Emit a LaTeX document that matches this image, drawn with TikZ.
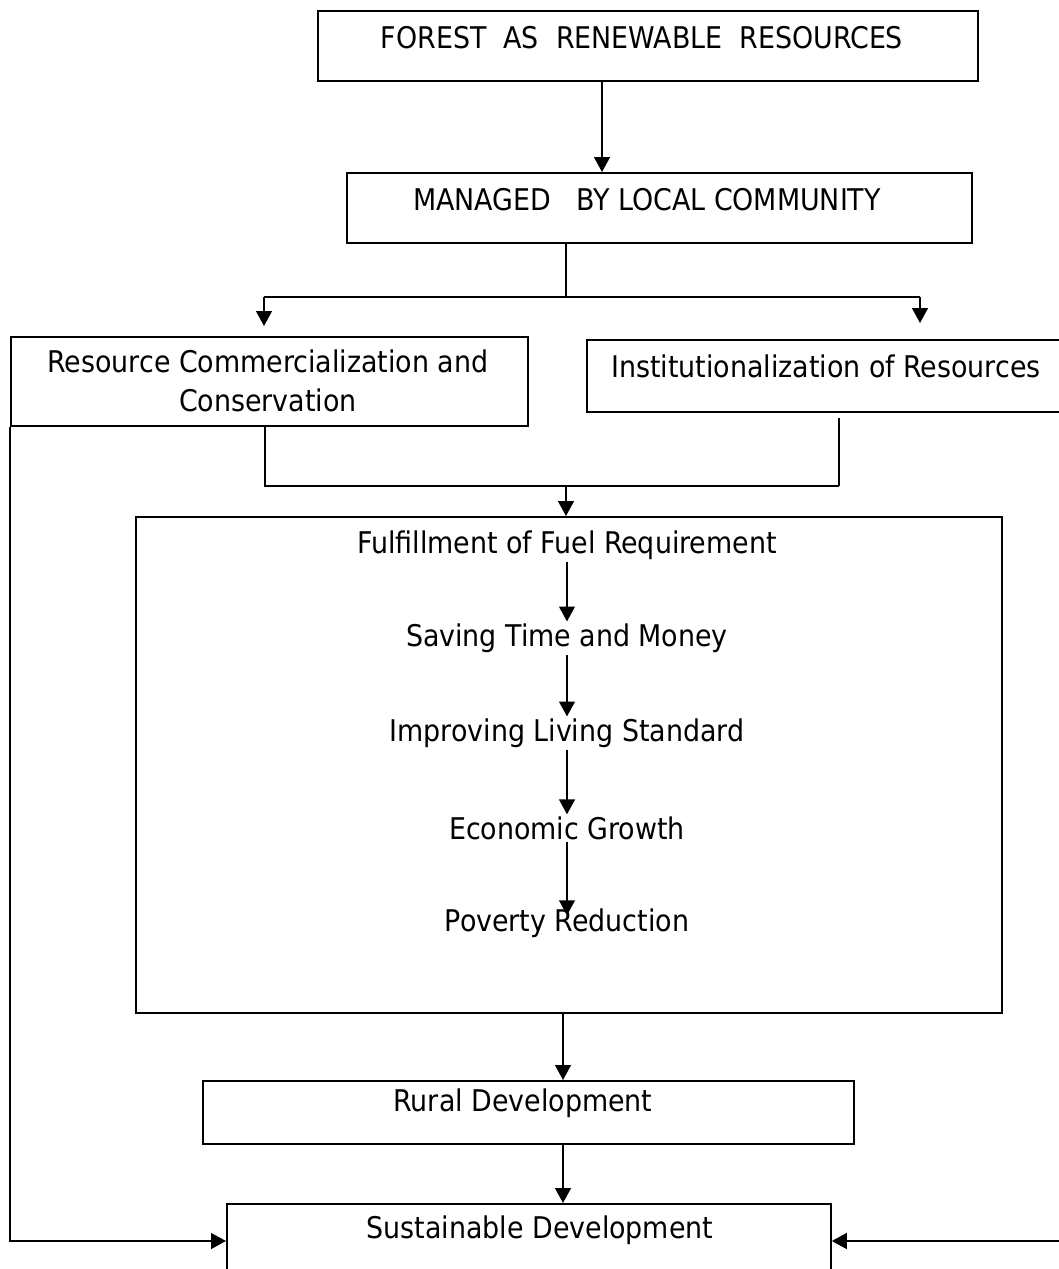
\documentclass[tikz,border=0pt]{standalone}
\usepackage{fontspec}
\setmainfont{DejaVu Sans Condensed}
\usetikzlibrary{arrows.meta}

\tikzset{
  boite/.style={draw, line width=1.1pt, inner sep=0pt, anchor=north west},
  texte/.style={font=\fontsize{17}{22}\selectfont, align=center, inner sep=1pt},
  fleche/.style={-{Triangle[length=8.5pt,width=9pt]}, line width=1pt},
  trait/.style={line width=1pt}
}

\begin{document}
\begin{tikzpicture}[x=0.02cm, y=-0.02cm]
  \useasboundingbox (0,0) rectangle (1059,1269);
  \clip (0,0) rectangle (1059,1269);

  % Boites
  \node[boite, minimum width=13.2cm, minimum height=1.4cm] (forest) at (317,10) {};
  \node[boite, minimum width=12.5cm, minimum height=1.4cm] (managed) at (346,172) {};
  \node[boite, minimum width=10.34cm, minimum height=1.78cm] (commerce) at (10,336) {};
  \node[boite, minimum width=9.8cm, minimum height=1.44cm] (institut) at (586,339) {};
  \node[boite, minimum width=17.32cm, minimum height=9.92cm] (benefits) at (135,516) {};
  \node[boite, minimum width=13.02cm, minimum height=1.26cm] (rural) at (202,1080) {};
  \node[boite, minimum width=12.08cm, minimum height=2.2cm] (sustain) at (226,1203) {};

  % Textes
  \node[texte] (forestlbl) at (642,38) {FOREST\ \ AS\ \ RENEWABLE\ \ RESOURCES};
  \node[texte] (managedlbl) at (647,200) {MANAGED\ \ \ BY LOCAL COMMUNITY};
  \node[texte] (commercelbl) at (268,381) {Resource Commercialization and\\Conservation};
  \node[texte] (institutlbl) at (826,366) {Institutionalization of Resources};
  \node[texte] (fuel) at (567,545) {Fulfillment of Fuel Requirement};
  \node[texte] (saving) at (567,638) {Saving Time and Money};
  \node[texte] (living) at (567,733) {Improving Living Standard};
  \node[texte] (growth) at (567,828) {Economic Growth};
  \node[texte] (poverty) at (567,923) {Poverty Reduction};
  \node[texte] (rurallbl) at (523,1103) {Rural Development};
  \node[texte] (sustainlbl) at (540,1230) {Sustainable Development};

  % Points de jonction
  \coordinate (fm) at (602,0);
  \coordinate (split) at (566,297);
  \coordinate (splitL) at (264,297);
  \coordinate (splitR) at (920,297);
  \coordinate (tipL) at (264,326);
  \coordinate (tipR) at (920,323);
  \coordinate (joinL) at (265,486);
  \coordinate (joinR) at (839,486);
  \coordinate (join) at (566,486);
  \coordinate (stem) at (563,0);
  \coordinate (lvl) at (0,1241);
  \coordinate (redge) at (1075,1241);

  % Liaisons
  \draw[fleche] (forest.south -| fm) -- (managed.north -| fm);
  \draw[trait] (managed.south -| split) -- (split);
  \draw[trait] (splitL) -- (splitR);
  \draw[fleche] (splitL) -- (tipL);
  \draw[fleche] (splitR) -- (tipR);
  \draw[trait] (commerce.south -| joinL) -- (joinL) -- (joinR);
  \draw[trait] ([yshift=-3pt]institut.south -| joinR) -- (joinR);
  \draw[fleche] (join) -- (benefits.north -| join);

  \draw[fleche] (fuel) -- (saving);
  \draw[fleche] (saving) -- (living);
  \draw[fleche] (living) -- (growth);
  \draw[fleche, shorten >=-5pt] (growth) -- (poverty);

  \draw[fleche] (benefits.south -| stem) -- (rural.north -| stem);
  \draw[fleche] (rural.south -| stem) -- (sustain.north -| stem);
  \draw[fleche] (commerce.south west) |- (sustain.west |- lvl);
  \draw[fleche] (redge) -- (sustain.east |- redge);

\end{tikzpicture}
\end{document}
